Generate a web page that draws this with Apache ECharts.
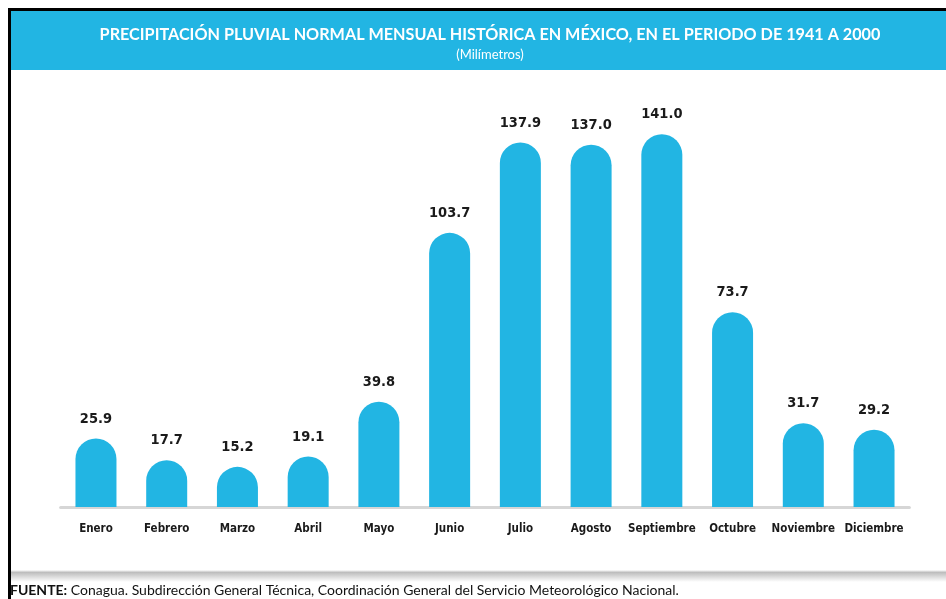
<!DOCTYPE html>
<html>
<head>
<meta charset="utf-8">
<style>
  html, body { margin: 0; padding: 0; background: #fff; }
  #chart { width: 946px; height: 599px; }
</style>
<script src="https://cdn.jsdelivr.net/npm/echarts@6/dist/echarts.min.js"></script>
</head>
<body>
<div id="chart"></div>
<script>
// datos
var meses = ['Enero', 'Febrero', 'Marzo', 'Abril', 'Mayo', 'Junio', 'Julio', 'Agosto', 'Septiembre', 'Octubre', 'Noviembre', 'Diciembre'];
var precipitacion = [25.9, 17.7, 15.2, 19.1, 39.8, 103.7, 137.9, 137.0, 141.0, 73.7, 31.7, 29.2];

(function () {
  var myChart = echarts.init(document.getElementById('chart'));
  var azul = '#22b5e3';
  var condensada = "'DejaVu Sans Condensed', sans-serif";
  var option = {
    animation: false,
    backgroundColor: '#fff',
    graphic: [
      // sombra inferior del recuadro
      { type: 'rect', z: -10, shape: { x: 8, y: 570, width: 938, height: 12 },
        style: { fill: new echarts.graphic.LinearGradient(0, 0, 0, 1, [
          { offset: 0, color: '#ffffff' }, { offset: 0.2, color: '#bdbdbd' }, { offset: 1, color: '#ffffff' }]) } },
      // bordes negros
      { type: 'rect', z: -5, shape: { x: 8, y: 8, width: 938, height: 3 }, style: { fill: '#000' } },
      { type: 'rect', z: -5, shape: { x: 8, y: 8, width: 3, height: 591 }, style: { fill: '#000' } },
      // banda del titulo
      { type: 'rect', z: -5, shape: { x: 11, y: 11, width: 935, height: 59 }, style: { fill: azul } },
      // fuente
      { type: 'text', left: 10, top: 583,
        style: {
          text: '{b|FUENTE:} Conagua. Subdirección General Técnica, Coordinación General del Servicio Meteorológico Nacional.',
          fontFamily: 'Lato', fontSize: 14, fill: '#111',
          rich: { b: { fontFamily: 'Lato', fontWeight: 'bold', fontSize: 14, fill: '#111' } }
        } }
    ],
    title: {
      text: 'PRECIPITACIÓN PLUVIAL NORMAL MENSUAL HISTÓRICA EN MÉXICO, EN EL PERIODO DE 1941 A 2000',
      subtext: '(Milímetros)',
      left: 485, textAlign: 'center', top: 22, itemGap: 5,
      textStyle: { color: '#fff', fontFamily: 'Lato', fontWeight: 'bold', fontSize: 16.2 },
      subtextStyle: { color: '#fff', fontFamily: 'Lato', fontSize: 13 }
    },
    grid: { left: 60.6, right: 36.6, top: 84, bottom: 92 },
    xAxis: {
      type: 'category',
      data: meses,
      axisTick: { show: false },
      axisLine: { lineStyle: { color: '#d6d6d6', width: 3 } },
      axisLabel: {
        color: '#1a1a1a', fontFamily: condensada, fontWeight: 'bold',
        fontSize: 11.5, margin: 16, interval: 0
      }
    },
    yAxis: { type: 'value', min: 0, max: 160, show: false, splitLine: { show: false } },
    series: [{
      type: 'bar',
      data: precipitacion,
      barWidth: 41,
      itemStyle: { color: azul, borderRadius: [20.5, 20.5, 0, 0] },
      label: {
        show: true, position: 'top', distance: 12,
        color: '#1a1a1a', fontFamily: condensada, fontWeight: 'bold', fontSize: 14.5,
        formatter: function (p) { return p.value.toFixed(1); }
      }
    }]
  };
  myChart.setOption(option);
  window.addEventListener('resize', function () { myChart.resize(); });
})();
</script>
</body>
</html>
